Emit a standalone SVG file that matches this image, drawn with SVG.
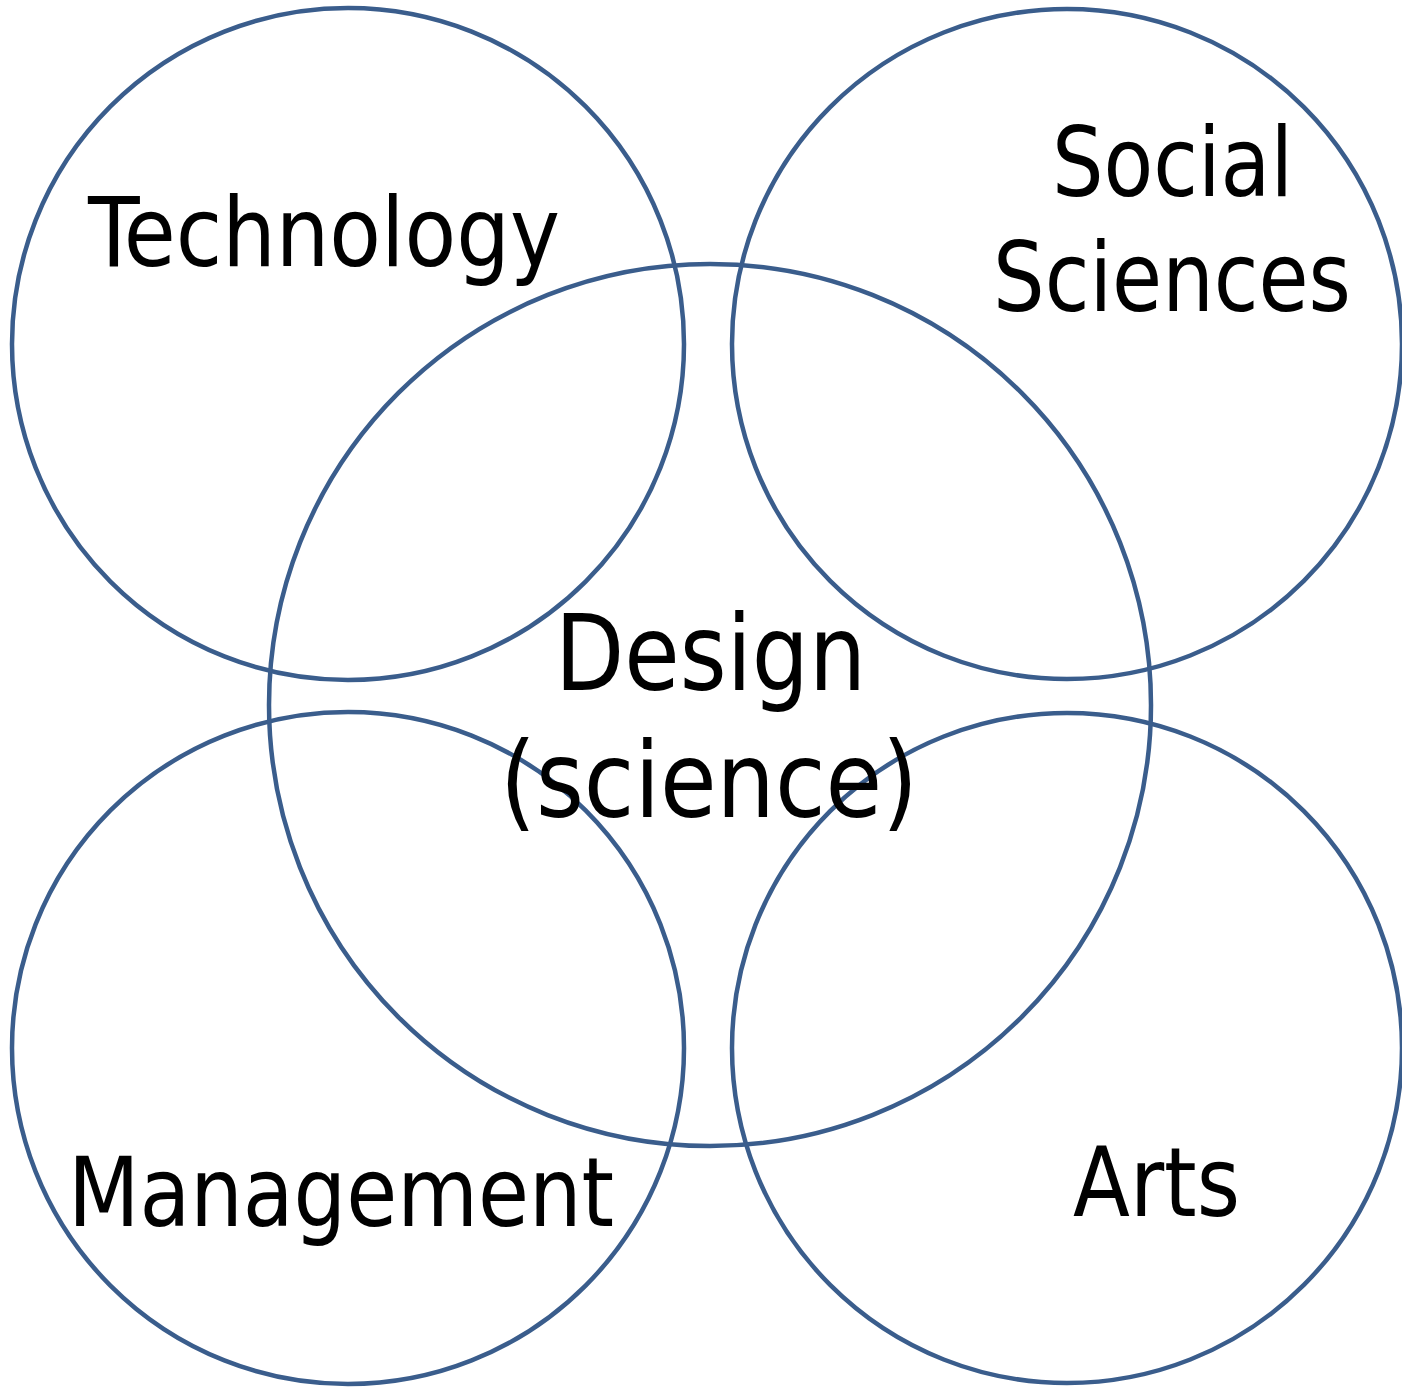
<svg xmlns="http://www.w3.org/2000/svg" width="1402" height="1390" viewBox="0 0 1402 1390">
<style>
.c{fill:none;stroke:#3A5D8C;stroke-width:4.5}
.t{font-family:"DejaVu Sans Condensed","DejaVu Sans","Liberation Sans",sans-serif;fill:#000}
</style>
<rect width="1402" height="1390" fill="#fff"/>
<g id="circles">
<g id="technology-circle"><circle class="c" cx="348" cy="344" r="336"/></g>
<g id="social-circle"><circle class="c" cx="1067" cy="344" r="335"/></g>
<g id="management-circle"><circle class="c" cx="348" cy="1048" r="336"/></g>
<g id="arts-circle"><circle class="c" cx="1067" cy="1048" r="335"/></g>
<g id="design-circle"><circle class="c" cx="710" cy="705" r="441"/></g>
</g>
<g id="labels">
<g id="technology"><text class="t" x="88" y="266" font-size="96" textLength="472" lengthAdjust="spacingAndGlyphs">Technology</text></g>
<g id="social"><text class="t" x="1052" y="196" font-size="96" textLength="241" lengthAdjust="spacingAndGlyphs">Social</text>
<text class="t" x="993" y="311" font-size="96" textLength="358" lengthAdjust="spacingAndGlyphs">Sciences</text></g>
<g id="design"><text class="t" x="555" y="690" font-size="106" textLength="311" lengthAdjust="spacingAndGlyphs">Design</text>
<text class="t" x="500" y="817" font-size="106" textLength="418" lengthAdjust="spacingAndGlyphs">(science)</text></g>
<g id="management"><text class="t" x="68" y="1226" font-size="96" textLength="546" lengthAdjust="spacingAndGlyphs">Management</text></g>
<g id="arts"><text class="t" x="1073" y="1216" font-size="96" textLength="167" lengthAdjust="spacingAndGlyphs">Arts</text></g>
</g>
</svg>
